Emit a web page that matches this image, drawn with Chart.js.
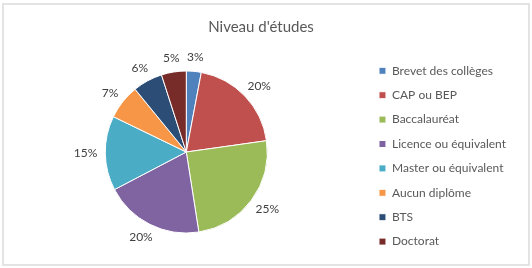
<!DOCTYPE html>
<html lang="fr">
<head>
<meta charset="UTF-8">
<title>Niveau d'études</title>
<script src="https://cdn.jsdelivr.net/npm/chart.js@4/dist/chart.umd.min.js"></script>
<style>
    body {
        margin: 0;
        padding: 0;
        background: #fff;
    }
    #wrap {
        width: 532px;
        height: 268px;
    }
</style>
</head>
<body>
<div id="wrap"><canvas id="pie"></canvas></div>
<script>
const labels = ['Brevet des collèges', 'CAP ou BEP', 'Baccalauréat', 'Licence ou équivalent',
    'Master ou équivalent', 'Aucun diplôme', 'BTS', 'Doctorat'];
const percents = [3, 20, 25, 20, 15, 7, 6, 5];
const colors = ['#4F81BD', '#C0504D', '#9BBB59', '#8064A2', '#4BACC6', '#F79646', '#2C4D75', '#772C2A'];

// cadre gris clair autour du graphique
const framePlugin = {
    id: 'frame',
    beforeDraw(chart) {
        const ctx = chart.ctx;
        ctx.save();
        ctx.fillStyle = '#fff';
        ctx.fillRect(0, 0, chart.width, chart.height);
        ctx.strokeStyle = '#e3e3e3';
        ctx.lineWidth = 2;
        ctx.strokeRect(3, 4, chart.width - 6, chart.height - 7);
        ctx.restore();
    }
};

// étiquettes de pourcentage à l'extérieur des parts
const outsideLabels = {
    id: 'outsideLabels',
    afterDatasetsDraw(chart) {
        const ctx = chart.ctx;
        const meta = chart.getDatasetMeta(0);
        ctx.save();
        ctx.font = '12px Lato';
        ctx.fillStyle = '#404040';
        ctx.textAlign = 'center';
        ctx.textBaseline = 'middle';
        meta.data.forEach((arc, i) => {
            const p = arc.getProps(['x', 'y', 'startAngle', 'endAngle', 'outerRadius'], true);
            const mid = (p.startAngle + p.endAngle) / 2;
            const txt = percents[i] + '%';
            const w = ctx.measureText(txt).width;
            const h = 13;
            const r = p.outerRadius + 8;
            const cx = p.x + Math.cos(mid) * (r + w / 2);
            const cy = p.y + Math.sin(mid) * (r + h / 2);
            ctx.fillText(txt, cx, cy);
        });
        ctx.restore();
    }
};

new Chart(document.getElementById('pie'), {
    type: 'pie',
    data: {
        labels: labels,
        datasets: [{
            data: percents,
            backgroundColor: colors,
            borderColor: '#fff',
            borderWidth: 1,
            radius: 81
        }]
    },
    options: {
        responsive: true,
        maintainAspectRatio: false,
        animation: false,
        layout: {
            padding: { top: 6, bottom: 8, left: 6, right: 16 }
        },
        plugins: {
            title: {
                display: true,
                text: "Niveau d'études",
                color: '#595959',
                font: { family: 'Lato', size: 15, weight: 'normal' },
                padding: { top: 12, bottom: 8 }
            },
            legend: {
                position: 'right',
                align: 'end',
                labels: {
                    boxWidth: 7,
                    boxHeight: 7,
                    padding: 12.4,
                    color: '#595959',
                    font: { family: 'Lato', size: 12 }
                }
            },
            tooltip: { enabled: false }
        }
    },
    plugins: [framePlugin, outsideLabels]
});
</script>
</body>
</html>
